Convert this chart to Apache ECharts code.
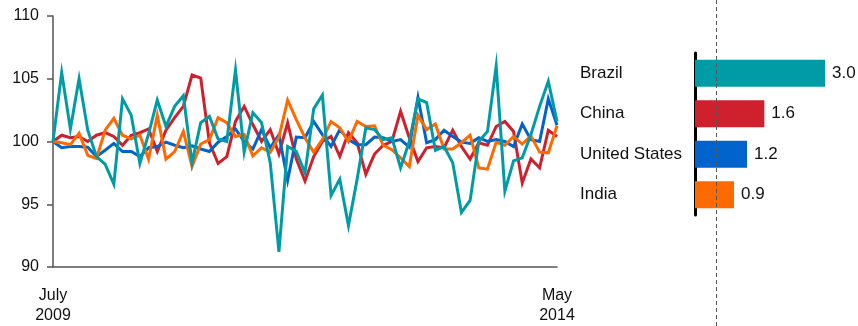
<!DOCTYPE html>
<html>
<head>
<meta charset="utf-8">
<script src="https://cdn.jsdelivr.net/npm/echarts@6/dist/echarts.min.js"></script>
<style>
html,body{margin:0;padding:0;background:#fff;}
#c{width:858px;height:326px;}
</style>
</head>
<body>
<div id="c"></div>
<script>
// Monthly index values, July 2009 .. May 2014 (59 months)
const months = [];
const monthNames = ['January','February','March','April','May','June','July','August','September','October','November','December'];
for (let k = 0; k < 59; k++) { const m = (6 + k) % 12; const y = 2009 + Math.floor((6 + k) / 12); months.push(monthNames[m] + '\n' + y); }

const brazil = [100,105.5,101.0,105.0,100.9,98.8,98.2,96.6,103.4,102.1,98.25,100.6,103.3,101.2,102.8,103.65,98.3,101.5,102.0,100.2,100.0,105.7,99.15,102.3,101.5,98.3,91.2,99.6,99.2,97.5,102.6,103.7,95.7,97.0,93.3,97.0,101.1,100.95,100.15,100.3,97.9,100.0,103.4,103.1,99.3,99.6,98.3,94.35,95.3,100.0,100.8,106.0,96.05,98.45,98.7,100.55,102.8,104.8,101.6];
const china = [100,100.5,100.3,100.4,100.0,100.5,100.7,100.4,99.7,100.5,100.7,101.0,99.2,100.9,101.9,102.8,105.3,105.05,99.9,98.25,98.8,101.6,102.8,101.35,100.0,100.95,99.0,101.5,98.6,96.85,98.8,100.0,100.4,98.8,100.7,99.9,97.4,99.0,99.7,100.0,102.4,100.3,98.4,99.5,99.6,99.5,100.9,99.6,98.6,99.9,99.7,101.2,101.6,100.8,96.7,98.6,97.9,100.9,100.4];
const unitedStates = [100,99.5,99.6,99.6,99.55,98.8,99.3,99.85,99.2,99.2,98.8,99.5,99.6,99.95,99.7,99.5,99.65,99.4,99.2,99.95,100.4,101.0,100.0,99.4,100.95,99.5,100.55,96.9,100.35,100.3,101.6,100.55,99.6,100.95,100.15,99.75,99.75,100.35,100.3,100.0,100.15,99.55,103.5,99.9,100.15,100.9,100.4,99.95,99.85,100.3,100.0,100.15,100.0,99.6,101.4,100.15,100.0,103.4,101.3];
const india = [100,99.9,99.75,100.65,98.9,98.65,100.9,101.85,100.5,100.2,100.5,98.6,102.1,98.6,99.2,100.8,98.0,99.8,100.15,101.9,101.5,100.4,100.55,98.85,99.5,99.15,100.35,103.3,101.75,100.3,99.15,100.15,101.6,101.1,100.0,101.6,101.2,101.25,99.7,99.35,98.7,98.0,102.1,100.95,101.4,99.4,99.4,99.9,100.5,97.9,97.8,99.95,99.7,100.4,99.8,100.45,99.15,99.1,101.25];

const barCountries = ['Brazil','China','United States','India'];
const barValues = [3.0, 1.6, 1.2, 0.9];
const referenceValue = 0.5;
const yTicks = [90, 95, 100, 105, 110];

const colors = {Brazil:'#009ca6', China:'#cf202e', 'United States':'#0064cc', India:'#ff6a00'};
const FONT = 'Liberation Sans, Arial, sans-serif';
const TXT = '#111';

const chart = echarts.init(document.getElementById('c'), null, {renderer:'canvas'});
const lineSeries = (name, data) => ({
  type:'line', name, data, xAxisIndex:0, yAxisIndex:0, symbol:'none',
  lineStyle:{width:3, color:colors[name], join:'miter'}, itemStyle:{color:colors[name]}, animation:false
});

chart.setOption({
  animation:false,
  grid:[
    {left:53, top:16, width:504, height:252},
    {left:695, top:53, width:151.7, height:162},
    {left:695, top:0, width:151.7, height:326}
  ],
  xAxis:[
    {type:'category', gridIndex:0, data:months, boundaryGap:false,
     axisLine:{lineStyle:{color:'#555', width:1.5}}, axisTick:{show:false},
     axisLabel:{interval:(i)=> i===0 || i===months.length-1, fontFamily:FONT, fontSize:16, color:TXT, margin:19, lineHeight:20,
       formatter:(v)=>v},
     splitLine:{show:false}},
    {type:'value', gridIndex:1, min:0, max:3.5, show:false},
    {type:'value', gridIndex:2, min:0, max:3.5, show:false}
  ],
  yAxis:[
    {type:'value', gridIndex:0, min:yTicks[0], max:yTicks[yTicks.length-1], interval:5,
     axisLine:{show:true, lineStyle:{color:'#555', width:1.5}},
     axisTick:{show:true, inside:false, length:6, lineStyle:{color:'#555', width:1.5}},
     axisLabel:{fontFamily:FONT, fontSize:16, color:TXT, margin:14},
     splitLine:{show:false}},
    {type:'category', gridIndex:1, data:barCountries, inverse:true,
     axisLine:{show:true, lineStyle:{color:'#000', width:3}}, axisTick:{show:false},
     axisLabel:{fontFamily:FONT, fontSize:17, color:TXT, align:'left', margin:115}},
    {type:'value', gridIndex:2, min:0, max:1, show:false}
  ],
  series:[
    lineSeries('China', china),
    lineSeries('United States', unitedStates),
    lineSeries('India', india),
    lineSeries('Brazil', brazil),
    {type:'bar', xAxisIndex:1, yAxisIndex:1, barWidth:27,
     data: barValues.map((v,i)=>({value:v, itemStyle:{color:colors[barCountries[i]]}})),
     label:{show:true, position:'right', distance:7, fontFamily:FONT, fontSize:17, color:TXT, formatter:(p)=>p.value.toFixed(1)},
     z:3},
    {type:'scatter', xAxisIndex:2, yAxisIndex:2, data:[], symbolSize:0,
     markLine:{silent:true, symbol:'none', label:{show:false},
       lineStyle:{type:[4,3], color:'#555', width:1},
       data:[{xAxis:referenceValue}]},
     z:5}
  ]
});
</script>
</body>
</html>
